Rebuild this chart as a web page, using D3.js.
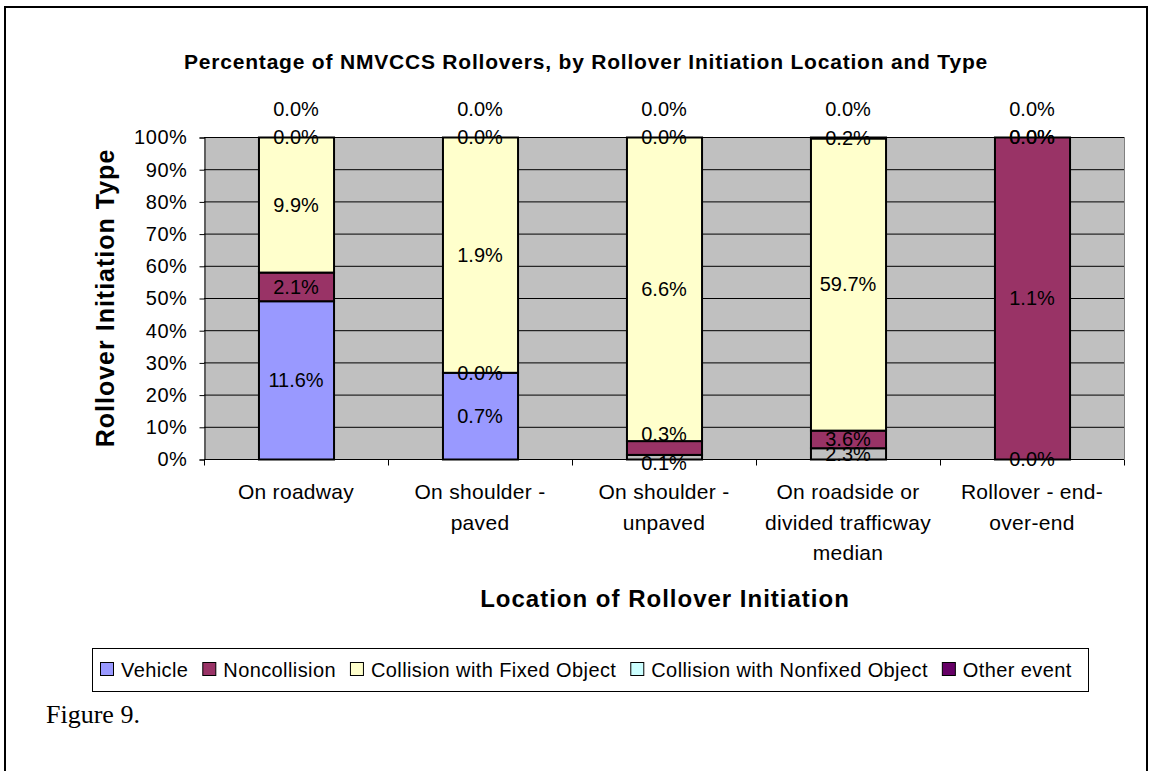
<!DOCTYPE html>
<html>
<head>
<meta charset="utf-8">
<script src="https://cdn.jsdelivr.net/npm/d3@7"></script>
<style>
  body { margin: 0; background: #fff; }
  svg text { font-family: "Liberation Sans", Arial, sans-serif; }
</style>
</head>
<body>
<div id="chart"></div>
<script>
// categories (x axis), each split into lines as drawn
var categories = ["On roadway", "On shoulder - paved", "On shoulder - unpaved",
    "On roadside or divided trafficway median", "Rollover - end-over-end"];
var categoryLines = [["On roadway"], ["On shoulder -", "paved"], ["On shoulder -", "unpaved"],
    ["On roadside or", "divided trafficway", "median"], ["Rollover - end-", "over-end"]];

// series values (percent of all rollovers)
var seriesNames = ["Vehicle", "Noncollision", "Collision with Fixed Object", "Collision with Nonfixed Object", "Other event"];
var vehicle = [11.6, 0.7, 0.1, 2.3, 0.0];
var noncollision = [2.1, 0.0, 0.3, 3.6, 1.1];
var fixedObject = [9.9, 1.9, 6.6, 59.7, 0.0];
var nonfixedObject = [0.0, 0.0, 0.0, 0.2, 0.0];
var otherEvent = [0.0, 0.0, 0.0, 0.0, 0.0];
var seriesColors = ["#9999ff", "#993366", "#ffffcc", "#ccffff", "#660066"];
// vehicle points drawn with no fill in the original
var vehicleNoFill = [false, false, true, true, false];

var yTicks = [0, 10, 20, 30, 40, 50, 60, 70, 80, 90, 100];

var W = 1151, H = 771;
var svg = d3.select("#chart").append("svg").attr("width", W).attr("height", H);

// outer frame
svg.append("rect").attr("x", 5).attr("y", 7).attr("width", 1142).attr("height", 780)
    .attr("fill", "none").attr("stroke", "#000").attr("stroke-width", 2);

var plotLeft = 204, plotRight = 1124, plotTop = 137, plotBottom = 459;

var x = d3.scaleBand().domain(categories).range([plotLeft, plotRight])
    .paddingInner(0.592).paddingOuter(0.296);
var y = d3.scaleLinear().domain([0, 100]).range([plotBottom, plotTop]);

// plot area
svg.append("rect").attr("x", plotLeft).attr("y", plotTop)
    .attr("width", plotRight - plotLeft).attr("height", plotBottom - plotTop)
    .attr("fill", "#c0c0c0");

// gridlines
svg.append("g").selectAll("line").data(yTicks.slice(1)).enter().append("line")
    .attr("x1", plotLeft).attr("x2", plotRight)
    .attr("y1", function (d) { return y(d) + 0.5; }).attr("y2", function (d) { return y(d) + 0.5; })
    .attr("stroke", "#000").attr("stroke-width", 1);
svg.append("line").attr("x1", plotRight + 0.5).attr("x2", plotRight + 0.5).attr("y1", plotTop).attr("y2", plotBottom)
    .attr("stroke", "#808080");

// build table and stack as 100%
var allSeries = [vehicle, noncollision, fixedObject, nonfixedObject, otherEvent];
var table = categories.map(function (c, i) {
    var row = { cat: c, idx: i };
    seriesNames.forEach(function (s, k) { row[s] = allSeries[k][i]; });
    return row;
});
var stack = d3.stack().keys(seriesNames).offset(d3.stackOffsetExpand);
var stacked = stack(table);

function points(d) { return d.map(function (p) { return { p: p, key: d.key, k: d.index }; }); }

var layers = svg.append("g").selectAll("g").data(stacked).enter().append("g");
layers.selectAll("rect").data(points)
    .enter().append("rect")
    .attr("x", function (d) { return x(d.p.data.cat) + 0.5; })
    .attr("y", function (d) { return y(d.p[1] * 100) + 0.5; })
    .attr("width", x.bandwidth())
    .attr("height", function (d) { return y(d.p[0] * 100) - y(d.p[1] * 100); })
    .attr("fill", function (d) {
        if (d.k === 0 && vehicleNoFill[d.p.data.idx]) return "none";
        return seriesColors[d.k];
    })
    .attr("stroke", "#000").attr("stroke-width", 2);

// label positions: centre of segment, last series above the bar,
// and the two bottom labels pushed apart when they would collide
var labelY = stacked.map(function (layer) {
    return layer.map(function (p) {
        var cy = y((p[0] + p[1]) / 2 * 100);
        return layer.index === seriesNames.length - 1 ? cy - 28 : cy;
    });
});
categories.forEach(function (c, i) {
    if (allSeries[0][i] > 0 && allSeries[1][i] > 0 && labelY[0][i] - labelY[1][i] < 12) {
        labelY[1][i] -= 14;
        labelY[0][i] += 6;
    }
});

var labelLayer = svg.append("g").selectAll("g").data(stacked).enter().append("g");
labelLayer.selectAll("text").data(points)
    .enter().append("text")
    .attr("x", function (d) { return x(d.p.data.cat) + x.bandwidth() / 2; })
    .attr("y", function (d) { return labelY[d.k][d.p.data.idx]; })
    .attr("dy", "0.36em")
    .attr("text-anchor", "middle").attr("font-size", 20).attr("fill", "#000")
    .text(function (d) { return d.p.data[d.key].toFixed(1) + "%"; });

// y axis
var yAxis = d3.axisLeft(y).tickValues(yTicks).tickSize(5).tickFormat(function (d) { return d + "%"; });
var ya = svg.append("g").attr("transform", "translate(" + (plotLeft + 0.5) + ",0.5)").call(yAxis);
ya.select(".domain").attr("stroke", "#000");
ya.selectAll(".tick line").attr("stroke", "#000");
ya.selectAll("text").attr("font-size", 20).attr("fill", "#000").attr("x", -17)
    .style("letter-spacing", "0.6px")
    .style("font-family", "Liberation Sans, Arial, sans-serif");

// x axis
var xa = svg.append("g").attr("transform", "translate(0," + (plotBottom + 0.5) + ")");
xa.append("line").attr("x1", plotLeft).attr("x2", plotRight).attr("stroke", "#000");
var bounds = categories.map(function (c) { return x(c) - x.step() * x.paddingInner() / 2; }).concat([plotRight]);
xa.selectAll(".tk").data(bounds).enter().append("line")
    .attr("x1", function (d) { return Math.round(d) + 0.5; }).attr("x2", function (d) { return Math.round(d) + 0.5; })
    .attr("y1", 0).attr("y2", 6).attr("stroke", "#000");
var labs = svg.append("g").selectAll("text").data(categories).enter().append("text")
    .attr("x", function (d) { return x(d) + x.bandwidth() / 2; })
    .attr("y", 499)
    .attr("text-anchor", "middle").attr("font-size", 21).attr("fill", "#000")
    .style("letter-spacing", "0.3px");
labs.selectAll("tspan").data(function (d, i) { return categoryLines[i]; }).enter().append("tspan")
    .attr("x", function () { return this.parentNode.getAttribute("x"); })
    .attr("dy", function (d, i) { return i === 0 ? 0 : 30.5; })
    .text(function (d) { return d; });

// titles
svg.append("text").attr("x", 586).attr("y", 69).attr("text-anchor", "middle")
    .attr("font-size", 21).attr("font-weight", "bold").style("letter-spacing", "0.8px")
    .text("Percentage of NMVCCS Rollovers, by Rollover Initiation Location and Type");
svg.append("text").attr("x", 665).attr("y", 607).attr("text-anchor", "middle")
    .attr("font-size", 24).attr("font-weight", "bold").style("letter-spacing", "1px")
    .text("Location of Rollover Initiation");
svg.append("text").attr("transform", "translate(114,298) rotate(-90)").attr("text-anchor", "middle")
    .attr("font-size", 25).attr("font-weight", "bold").style("letter-spacing", "1px")
    .text("Rollover Initiation Type");

// legend
var legend = svg.append("g");
legend.append("rect").attr("x", 92.5).attr("y", 648.5).attr("width", 996).attr("height", 43)
    .attr("fill", "#fff").attr("stroke", "#000");
var lx = 100;
seriesNames.forEach(function (s, k) {
    legend.append("rect").attr("x", lx + 0.5).attr("y", 662.5).attr("width", 13).attr("height", 13)
        .attr("fill", seriesColors[k]).attr("stroke", "#000");
    var t = legend.append("text").attr("x", lx + 21).attr("y", 677).attr("font-size", 20)
        .attr("fill", "#000").style("letter-spacing", "0.4px").text(s);
    lx += 21 + t.node().getComputedTextLength() + 14;
});

// caption
svg.append("text").attr("x", 46).attr("y", 723).attr("font-size", 26)
    .style("font-family", "Liberation Serif, Times New Roman, serif").text("Figure 9.");
</script>
</body>
</html>
